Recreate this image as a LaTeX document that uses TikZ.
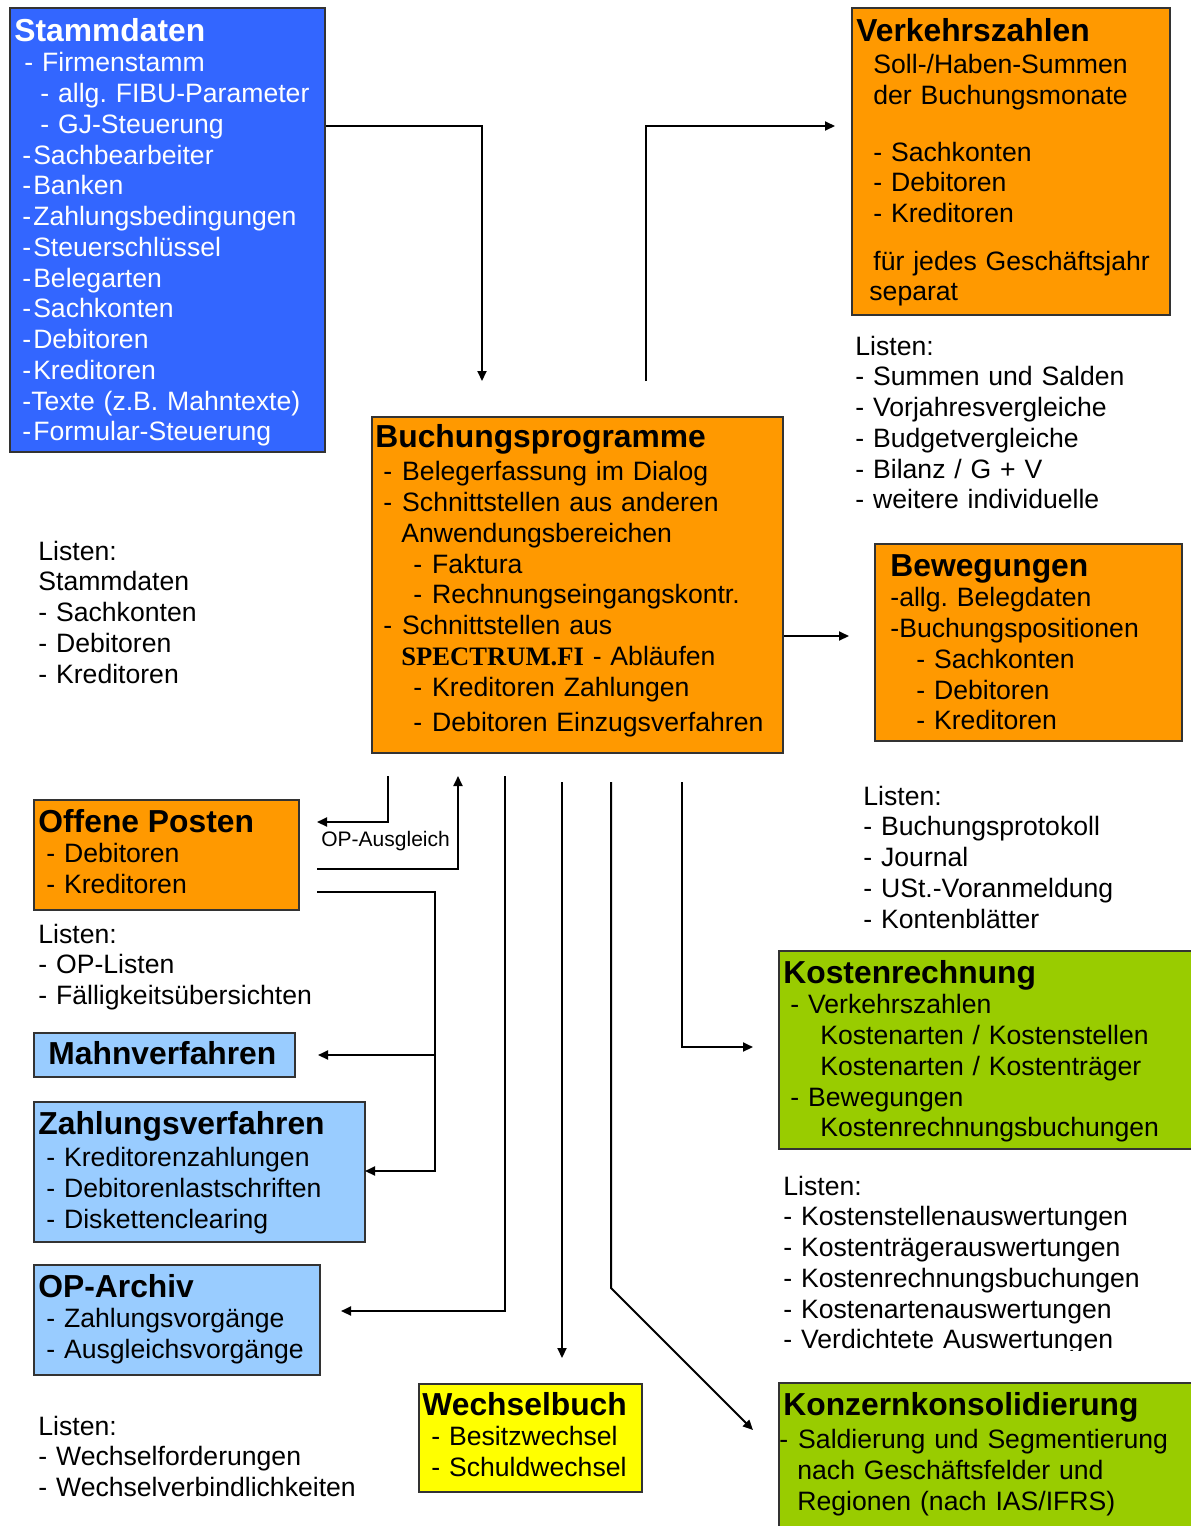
\documentclass[tikz,border=0pt]{standalone}
\usepackage{fontspec}
\setmainfont{Liberation Sans}
\newfontfamily\spfont{Liberation Serif}
\usetikzlibrary{arrows.meta}
\definecolor{sdblue}{HTML}{3366FF}
\definecolor{bporange}{HTML}{FF9900}
\definecolor{oplblue}{HTML}{99CCFF}
\definecolor{wbyellow}{HTML}{FFFF00}
\definecolor{krgreen}{HTML}{99CC00}
\newcommand{\hd}[1]{{\fontsize{15.9}{15.4}\selectfont\bfseries #1}}
\frenchspacing
\begin{document}
\begin{tikzpicture}[x=0.5pt, y=-0.5pt,
    box/.style={draw=black!80, line width=1pt, anchor=north west, inner sep=0pt},
    txt/.style={anchor=base west, inner sep=0pt, text width=300pt, align=left,
                font=\fontsize{13.3}{15.375}\selectfont},
    conn/.style={line width=1pt, -{Triangle[length=5pt, width=4.5pt]}},
    wire/.style={line width=1pt}]
    \useasboundingbox (0,0) rectangle (1190,1526);

    \node[box, fill=sdblue,   minimum width=157.5pt, minimum height=222pt]  (stamm)   at (9,7)     {};
    \node[box, fill=bporange, minimum width=159pt,   minimum height=153.5pt](verkehr) at (851,7)   {};
    \node[box, fill=bporange, minimum width=205.5pt, minimum height=168pt]  (buch)    at (371,416) {};
    \node[box, fill=bporange, minimum width=153.5pt, minimum height=98.5pt] (beweg)   at (874,543) {};
    \node[box, fill=bporange, minimum width=132.5pt, minimum height=55pt]   (offen)   at (33,799)  {};
    \node[box, fill=oplblue,  minimum width=130.5pt, minimum height=22pt]   (mahn)    at (33,1032) {};
    \node[box, fill=oplblue,  minimum width=165.5pt, minimum height=70pt]   (zahl)    at (33,1101) {};
    \node[box, fill=oplblue,  minimum width=143pt,   minimum height=55pt]   (archiv)  at (33,1264) {};
    \node[box, fill=wbyellow, minimum width=111.5pt, minimum height=54pt]   (wechsel) at (418,1383){};
    \node[box, fill=krgreen,  minimum width=210pt,   minimum height=99pt]   (kosten)  at (778,950) {};
    \node[box, fill=krgreen,  minimum width=210pt,   minimum height=80pt]   (konzern) at (778,1382){};

    \node[txt, text=white] (tstamm) at (14,41) {\hd{Stammdaten}\\
        \hspace*{5pt}- Firmenstamm\\
        \hspace*{13pt}- allg. FIBU-Parameter\\
        \hspace*{13pt}- GJ-Steuerung\\
        \hspace*{4pt}-\hspace{1pt}Sachbearbeiter\\
        \hspace*{4pt}-\hspace{1pt}Banken\\
        \hspace*{4pt}-\hspace{1pt}Zahlungsbedingungen\\
        \hspace*{4pt}-\hspace{1pt}Steuerschlüssel\\
        \hspace*{4pt}-\hspace{1pt}Belegarten\\
        \hspace*{4pt}-\hspace{1pt}Sachkonten\\
        \hspace*{4pt}-\hspace{1pt}Debitoren\\
        \hspace*{4pt}-\hspace{1pt}Kreditoren\\
        \hspace*{4pt}-Texte (z.B. Mahntexte)\\
        \hspace*{4pt}-\hspace{1pt}Formular-Steuerung};
    \node[txt] (tverkehr) at (856,41) {\hd{Verkehrszahlen}\\[1pt]
        \hspace*{8.5pt}Soll-/Haben-Summen\\
        \hspace*{8.5pt}der Buchungsmonate\\[12.9pt]
        \hspace*{8.5pt}- Sachkonten\\
        \hspace*{8.5pt}- Debitoren\\
        \hspace*{8.5pt}- Kreditoren\\[8.4pt]
        \hspace*{8.5pt}für jedes Geschäftsjahr\\
        \hspace*{6.5pt}separat};
    \node[txt] (tbuch) at (375,447) {\hd{Buchungsprogramme}\\[1.5pt]
        \hspace*{4pt}-\hspace{5pt}Belegerfassung im Dialog\\
        \hspace*{4pt}-\hspace{5pt}Schnittstellen aus anderen\\
        \hspace*{13pt}Anwendungsbereichen\\
        \hspace*{19pt}-\hspace{5pt}Faktura\\
        \hspace*{19pt}-\hspace{5pt}Rechnungseingangskontr.\\
        \hspace*{4pt}-\hspace{5pt}Schnittstellen aus\\
        \hspace*{13pt}{\spfont\bfseries SPECTRUM.FI} - Abläufen\\
        \hspace*{19pt}-\hspace{5pt}Kreditoren Zahlungen\\[2.5pt]
        \hspace*{19pt}-\hspace{5pt}Debitoren Einzugsverfahren};
    \node[txt] (tbeweg) at (890,576) {\hd{Bewegungen}\\
        -allg. Belegdaten\\
        -Buchungspositionen\\
        \hspace*{13pt}- Sachkonten\\
        \hspace*{13pt}- Debitoren\\
        \hspace*{13pt}- Kreditoren};
    \node[txt] (toffen) at (38,832) {\hd{Offene Posten}\\
        \hspace*{4pt}- Debitoren\\
        \hspace*{4pt}- Kreditoren};
    \node[txt] (tmahn) at (48,1064) {\hd{Mahnverfahren}};
    \node[txt] (tzahl) at (38,1134) {\hd{Zahlungsverfahren}\\[1pt]
        \hspace*{4pt}- Kreditorenzahlungen\\
        \hspace*{4pt}- Debitorenlastschriften\\
        \hspace*{4pt}- Diskettenclearing};
    \node[txt] (tarchiv) at (38,1297) {\hd{OP-Archiv}\\
        \hspace*{4pt}- Zahlungsvorgänge\\
        \hspace*{4pt}- Ausgleichsvorgänge};
    \node[txt] (twechsel) at (422,1415) {\hd{Wechselbuch}\\
        \hspace*{4.5pt}- Besitzwechsel\\
        \hspace*{4.5pt}- Schuldwechsel};
    \node[txt] (tkosten) at (783,983) {\hd{Kostenrechnung}\\
        \hspace*{3.5pt}- Verkehrszahlen\\
        \hspace*{18.5pt}Kostenarten / Kostenstellen\\
        \hspace*{18.5pt}Kostenarten / Kostenträger\\
        \hspace*{3.5pt}- Bewegungen\\
        \hspace*{18.5pt}Kostenrechnungsbuchungen};
    \node[txt] (tkonzern) at (783,1415) {\hd{Konzernkonsolidierung}\\[1.5pt]
        \hspace*{-2pt}-\hspace{5pt}Saldierung und Segmentierung\\
        \hspace*{7pt}nach Geschäftsfelder und\\
        \hspace*{7pt}Regionen (nach IAS/IFRS)};

    \node[txt] (lverkehr) at (855,355) {Listen:\\- Summen und Salden\\- Vorjahresvergleiche\\
        - Budgetvergleiche\\- Bilanz / G + V\\- weitere individuelle};
    \node[txt] (lstamm) at (38,560) {Listen:\\Stammdaten\\- Sachkonten\\- Debitoren\\- Kreditoren};
    \node[txt] (lbeweg) at (863,805) {Listen:\\- Buchungsprotokoll\\- Journal\\
        - USt.-Voranmeldung\\- Kontenblätter};
    \node[txt] (loffen) at (38,943) {Listen:\\- OP-Listen\\- Fälligkeitsübersichten};
    \node[txt] (lwechsel) at (38,1435) {Listen:\\- Wechselforderungen\\- Wechselverbindlichkeiten};
    \begin{scope}
        \clip (760,1160) rectangle (1190,1350);
        \node[txt] (lkosten) at (783,1195) {Listen:\\- Kostenstellenauswertungen\\
            - Kostenträgerauswertungen\\- Kostenrechnungsbuchungen\\
            - Kostenartenauswertungen\\- Verdichtete Auswertungen};
    \end{scope}

    \coordinate (inBP)   at (482,381);
    \coordinate (outBP)  at (646,381);
    \coordinate (inVZ)   at (835,126);
    \coordinate (inBW)   at (849,636);
    \coordinate (opA)    at (388,776);
    \coordinate (inOP)   at (317,822);
    \coordinate (outOP)  at (317,869);
    \coordinate (inBP2)  at (458,776);
    \coordinate (outOP2) at (317,892);
    \coordinate (jz)     at (435,1171);
    \coordinate (inZV)   at (365,1171);
    \coordinate (inMV)   at (318,1055);
    \coordinate (bp1)    at (505,776);
    \coordinate (inAR)   at (341,1311);
    \coordinate (bp2)    at (562,782);
    \coordinate (inWB)   at (562,1358);
    \coordinate (bp3)    at (611,782);
    \coordinate (kn)     at (611,1288);
    \coordinate (inKK)   at (753,1430);
    \coordinate (bp4)    at (682,782);
    \coordinate (inKR)   at (753,1047);

    \draw[conn] (stamm.east |- 0,126) -| (inBP);
    \draw[conn] (outBP) |- (inVZ);
    \draw[conn] (buch.east |- inBW) -- (inBW);
    \draw[conn] (opA) |- (inOP);
    \draw[conn] (outOP) -| (inBP2);
    \node[anchor=base west, inner sep=0pt, font=\fontsize{10.5}{12}\selectfont] (lblOP) at (321,846) {OP-Ausgleich};
    \draw[conn] (outOP2) -| (jz) -- (inZV);
    \draw[conn] (jz |- inMV) -- (inMV);
    \draw[conn] (bp1) |- (inAR);
    \draw[conn] (bp2) -- (inWB);
    \draw[conn] (bp3) -- (kn) -- (inKK);
    \draw[conn] (bp4) |- (inKR);
\end{tikzpicture}
\end{document}
